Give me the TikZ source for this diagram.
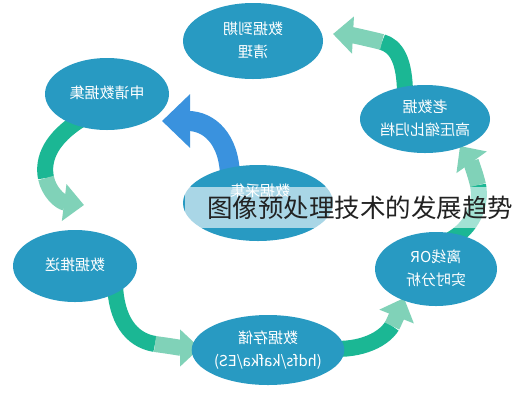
\documentclass[tikz,border=0pt]{standalone}
\usepackage{fontspec}
\setmainfont{Noto Sans CJK SC}
\usetikzlibrary{shapes.geometric,arrows.meta}
\definecolor{ell}{RGB}{40,154,194}
\definecolor{tealD}{RGB}{27,183,148}
\definecolor{tealL}{RGB}{128,210,184}
\definecolor{blueA}{RGB}{58,146,222}
\definecolor{titlec}{RGB}{34,34,34}
\newcommand\mirrortext[1]{\scalebox{-1}[1]{\begin{tabular}{@{}c@{}}#1\end{tabular}}}
\begin{document}
\begin{tikzpicture}[x=1pt,y=-1pt,
  bubble/.style={ellipse,fill=ell,text=white,inner sep=0pt,font=\fontsize{15}{23}\selectfont},
  tailpart/.style={draw=tealD,line width=16pt},
  headpart/.style={draw=tealL,line width=16pt,-{Triangle[width=36pt,length=20pt]}},
  bluearrow/.style={draw=blueA,line width=20pt,-{Triangle[width=52pt,length=28pt]}}
]
\useasboundingbox (0,0) rectangle (513,400);
\fill[white] (0,0) rectangle (513,400);

% waypoints
\coordinate (a1s) at (405,95);  \coordinate (a1m) at (382,42);  \coordinate (a1e) at (333,34);
\coordinate (a2s) at (450,240); \coordinate (a2m) at (478,185); \coordinate (a2e) at (460,146);
\coordinate (a3s) at (325,348); \coordinate (a3m) at (392,326); \coordinate (a3e) at (404,298);
\coordinate (a4s) at (115,284); \coordinate (a4m) at (155,344); \coordinate (a4e) at (200,348);
\coordinate (a5s) at (80,120);  \coordinate (a5m) at (46,178);  \coordinate (a5e) at (84,205);
\coordinate (a6s) at (230,178); \coordinate (a6e) at (162,121);

% arrows (drawn beneath the ellipses)
\draw[tailpart] (a1s) .. controls (405,60) and (396,46) .. (a1m);
\draw[headpart] (a1m) .. controls (370,39) and (352,35) .. (a1e);
\draw[tailpart] (a2s) .. controls (472,228) and (482,205) .. (a2m);
\draw[headpart] (a2m) .. controls (475,172) and (470,160) .. (a2e);
\draw[tailpart] (a3s) .. controls (355,352) and (382,342) .. (a3m);
\draw[headpart] (a3m) .. controls (396,318) and (400,308) .. (a3e);
\draw[tailpart] (a4s) .. controls (116,318) and (130,340) .. (a4m);
\draw[headpart] (a4m) .. controls (170,346) and (182,348) .. (a4e);
\draw[tailpart] (a5s) .. controls (52,138) and (42,158) .. (a5m);
\draw[headpart] (a5m) .. controls (49,192) and (60,202) .. (a5e);
\draw[bluearrow] (a6s) .. controls (230,138) and (208,121) .. (a6e);

% ellipses
\node[bubble,minimum width=140pt,minimum height=76pt] (clean) at (253,41) {\mirrortext{数据到期\\清理}};
\node[bubble,minimum width=124pt,minimum height=72pt] (apply) at (107,94) {\mirrortext{申请数据集}};
\node[bubble,minimum width=130pt,minimum height=68pt] (old) at (425,119) {\mirrortext{老数据\\高压缩比归档}};
\node[bubble,minimum width=150pt,minimum height=76pt] (collect) at (258,203) {};
\node[text=white,font=\fontsize{15}{23}\selectfont] (collecttxt) at (260,192) {\mirrortext{数据采集}};
\node[bubble,minimum width=124pt,minimum height=72pt] (push) at (75,266) {\mirrortext{数据推送}};
\node[bubble,minimum width=122pt,minimum height=74pt] (offline) at (436,269) {\mirrortext{离线OR\\实时分析}};
\node[bubble,minimum width=136pt,minimum height=70pt] (store) at (268,350) {\mirrortext{数据存储\\(hdfs/kafka/ES)}};

% overlay title
\fill[white,opacity=0.6] (185,187) rectangle (500,228);
\node[anchor=west,inner sep=0pt,text=titlec,font=\fontsize{25.5}{28}\selectfont] (title) at (207,208) {图像预处理技术的发展趋势};
\end{tikzpicture}
\end{document}
